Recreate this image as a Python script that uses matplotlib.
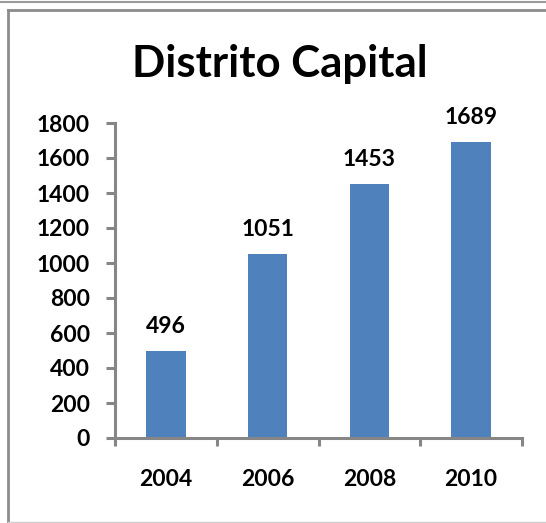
import matplotlib
matplotlib.use("Agg")
import matplotlib.pyplot as plt
from matplotlib.lines import Line2D

years = ["2004", "2006", "2008", "2010"]
values = [496, 1051, 1453, 1689]
yticks = [0, 200, 400, 600, 800, 1000, 1200, 1400, 1600, 1800]

W, H = 546, 523
fig = plt.figure(figsize=(W / 100, H / 100), dpi=100)
fig.patch.set_facecolor("white")

FONT = "Lato"
FS = 16.5
AX_COLOR = "#868686"

ax = fig.add_axes([115 / W, 1 - 438 / H, (522 - 115) / W, (438 - 123) / H])
x = list(range(len(years)))
ax.bar(x, values, width=0.39, color="#4F81BD", zorder=2)
ax.set_xlim(-0.5, len(years) - 0.5)
ax.set_ylim(0, 1800)
ax.set_yticks(yticks)
ax.set_yticklabels([str(t) for t in yticks], fontsize=FS, fontweight="bold", family=FONT)
ax.set_xticks([i - 0.5 for i in range(len(years) + 1)])
ax.set_xticklabels([])
ax.set_xticks(x, minor=True)
ax.set_xticklabels(years, minor=True, fontsize=FS, fontweight="bold", family=FONT)
ax.tick_params(axis="x", which="minor", length=0, pad=22)
ax.tick_params(axis="x", which="major", length=6, width=2.2, color=AX_COLOR, direction="out")
ax.tick_params(axis="y", length=6.5, width=2.2, color=AX_COLOR, direction="out", pad=11.5)
for s in ["top", "right"]:
    ax.spines[s].set_visible(False)
for s in ["left", "bottom"]:
    ax.spines[s].set_color(AX_COLOR)
    ax.spines[s].set_linewidth(2.2)

for xi, v in zip(x, values):
    ax.annotate(str(v), (xi, v), xytext=(0, 13), textcoords="offset points",
                ha="center", va="baseline", fontsize=FS, fontweight="bold", family=FONT)

fig.text(280 / W, 1 - 77 / H, "Distrito Capital", ha="center", va="baseline",
         fontsize=31.5, fontweight="bold", family=FONT)

def fline(x0, y0, x1, y1, color, lw):
    fig.add_artist(Line2D([x0 / W, x1 / W], [1 - y0 / H, 1 - y1 / H],
                          transform=fig.transFigure, color=color, linewidth=lw))

fline(0, 1.5, W, 1.5, "#9a9a9a", 1.5)
fline(8, 9.5, W, 9.5, "#8c8c8c", 2)
fline(8, 9.5, 8, 521, "#8c8c8c", 2)
fline(8, 521.5, W, 521.5, "#d0d0d0", 1)

fig.savefig("out.png", dpi=100)
